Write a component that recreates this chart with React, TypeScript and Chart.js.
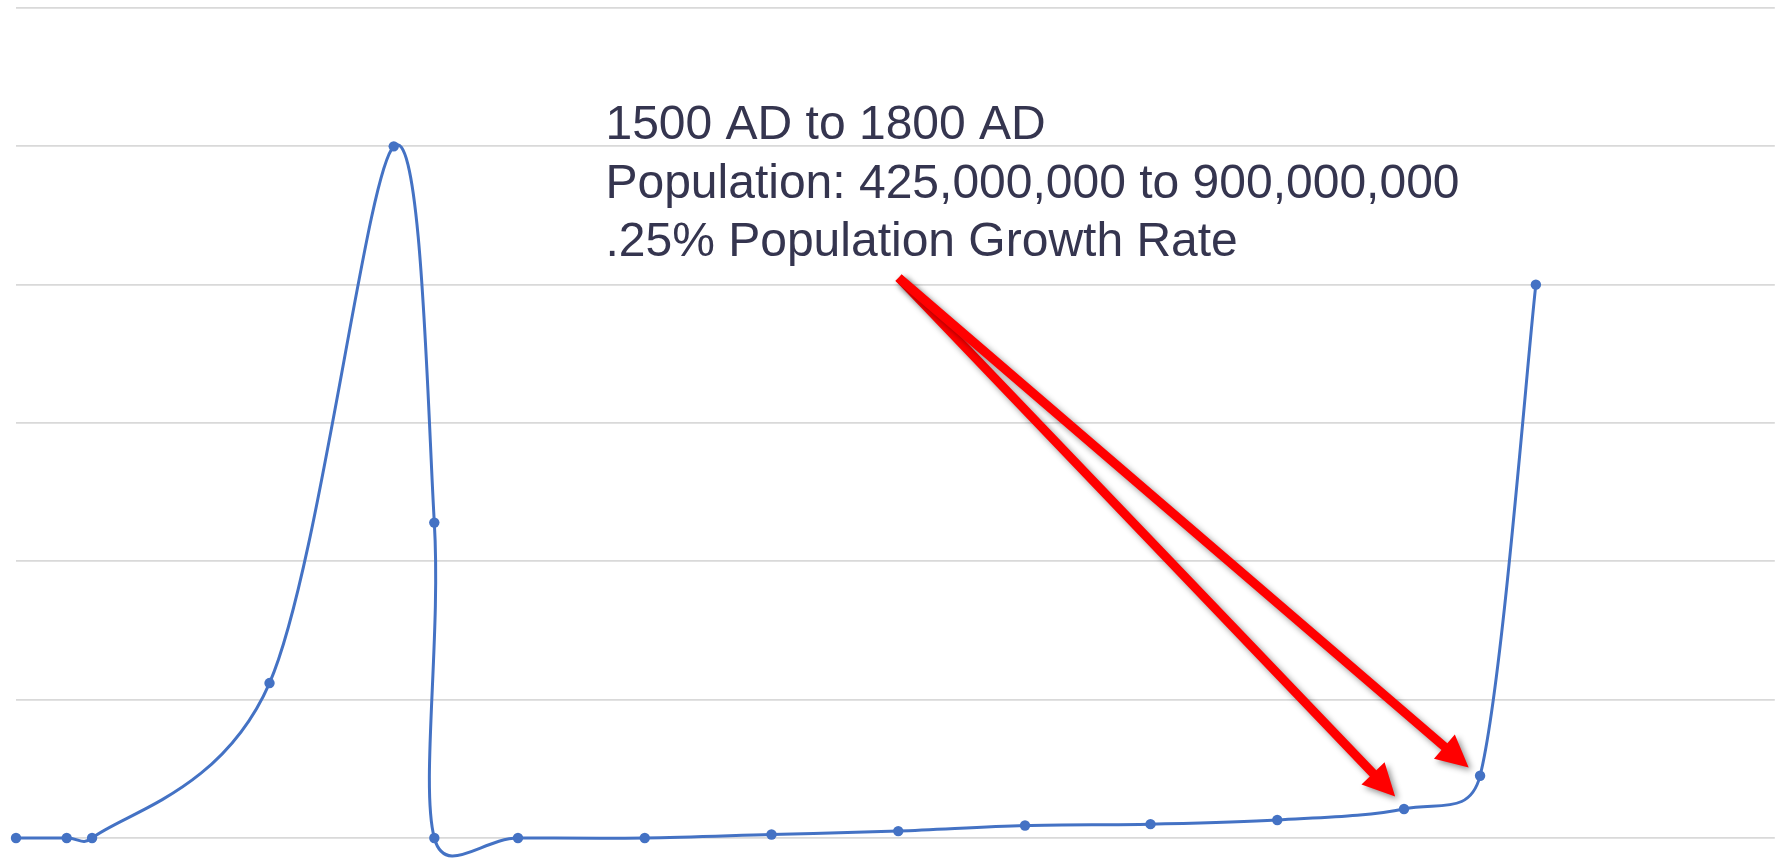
import React, { useEffect, useRef } from "react";
import { Chart, registerables } from "chart.js";

Chart.register(...registerables);

// time position (relative units) and population level (gridline units)
const xValues = [0, 0.4, 0.6, 2.0, 2.98, 3.3, 3.3, 3.96, 4.96, 5.96, 6.96, 7.96, 8.95, 9.95, 10.95, 11.55, 11.99];
const yValues = [0, 0, 0, 1.12, 5.0, 2.28, 0, 0, 0, 0.025, 0.05, 0.09, 0.1, 0.13, 0.21, 0.45, 4.0];
const yTicks = [0, 1, 2, 3, 4, 5, 6];

const noteLines = ["1500 AD to 1800 AD", "Population: 425,000,000 to 900,000,000", ".25% Population Growth Rate"];
const noteX = 4.65;
const noteY = [5.05, 4.63, 4.21];
const arrowStart = { x: 6.963, y: 4.05 };
const arrowTips = [
  { x: 10.88, y: 0.30 },
  { x: 11.46, y: 0.51 },
];

// Excel-style smoothing: Catmull-Rom arms (1/6) limited to half the segment length
const smoothPlugin = {
  id: "excelSmooth",
  beforeDatasetDraw(chart: any, args: any) {
    const meta = args.meta;
    const line = meta.dataset;
    if (!line) return;
    line.updateControlPoints(chart.chartArea, "x");
    const pts = meta.data;
    for (let i = 0; i < pts.length; i++) {
      const p = pts[i];
      const prev = pts[i - 1] || p;
      const next = pts[i + 1] || p;
      const dx = (next.x - prev.x) / 6;
      const dy = (next.y - prev.y) / 6;
      const arm = Math.hypot(dx, dy);
      const segOut = Math.hypot(next.x - p.x, next.y - p.y);
      const segIn = Math.hypot(p.x - prev.x, p.y - prev.y);
      const kOut = arm > 0 && arm > segOut / 2 ? segOut / 2 / arm : 1;
      const kIn = arm > 0 && arm > segIn / 2 ? segIn / 2 / arm : 1;
      p.cp2x = p.x + dx * kOut;
      p.cp2y = p.y + dy * kOut;
      p.cp1x = p.x - dx * kIn;
      p.cp1y = p.y - dy * kIn;
    }
    line._path = undefined;
  },
};

const annotationPlugin = {
  id: "notes",
  afterDatasetsDraw(chart: any) {
    const { ctx, scales } = chart;
    const xs = scales.x;
    const ys = scales.y;
    ctx.save();
    ctx.font = '48px "Liberation Sans", Arial, sans-serif';
    ctx.fillStyle = "#35354f";
    ctx.textBaseline = "alphabetic";
    noteLines.forEach((t, i) => {
      ctx.fillText(t, xs.getPixelForValue(noteX), ys.getPixelForValue(noteY[i]));
    });
    const sx = xs.getPixelForValue(arrowStart.x);
    const sy = ys.getPixelForValue(arrowStart.y);
    arrowTips.forEach((tip) => {
      const tx = xs.getPixelForValue(tip.x);
      const ty = ys.getPixelForValue(tip.y);
      const ang = Math.atan2(ty - sy, tx - sx);
      const headLen = 32;
      const headHalf = 16;
      const bx = tx - headLen * Math.cos(ang);
      const by = ty - headLen * Math.sin(ang);
      ctx.save();
      ctx.shadowColor = "rgba(0,0,0,0.45)";
      ctx.shadowBlur = 6;
      ctx.shadowOffsetX = 3;
      ctx.shadowOffsetY = 3;
      ctx.fillStyle = "#ff0000";
      const hw = 4.5;
      const nx = -Math.sin(ang);
      const ny = Math.cos(ang);
      ctx.beginPath();
      ctx.moveTo(sx + nx * hw, sy + ny * hw);
      ctx.lineTo(bx + nx * hw, by + ny * hw);
      ctx.lineTo(bx + nx * headHalf, by + ny * headHalf);
      ctx.lineTo(tx, ty);
      ctx.lineTo(bx - nx * headHalf, by - ny * headHalf);
      ctx.lineTo(bx - nx * hw, by - ny * hw);
      ctx.lineTo(sx - nx * hw, sy - ny * hw);
      ctx.closePath();
      ctx.fill();
      ctx.restore();
    });
    ctx.restore();
  },
};

export default function App() {
  const ref = useRef<HTMLCanvasElement>(null);
  useEffect(() => {
    document.body.style.margin = "0";
    const data = xValues.map((x, i) => ({ x, y: yValues[i] }));
    const chart = new Chart(ref.current as HTMLCanvasElement, {
      type: "scatter",
      data: {
        datasets: [
          {
            data,
            showLine: true,
            borderColor: "#4472c4",
            backgroundColor: "#4472c4",
            borderWidth: 3,
            pointRadius: 5.2,
            pointBorderWidth: 0,
            tension: 0.35,
            cubicInterpolationMode: "default",
            clip: false,
          } as any,
        ],
      },
      options: {
        animation: false,
        responsive: true,
        maintainAspectRatio: false,
        layout: { padding: { left: 16, top: 8, right: 0, bottom: 24 } },
        elements: { line: { capBezierPoints: false } },
        plugins: { legend: { display: false }, tooltip: { enabled: false } },
        scales: {
          x: { type: "linear", min: 0, max: 13.875, display: false },
          y: {
            min: 0,
            max: 6,
            afterBuildTicks: (axis: any) => {
              axis.ticks = yTicks.map((v) => ({ value: v }));
            },
            afterFit: (axis: any) => {
              axis.width = 0;
            },
            ticks: { display: false },
            border: { display: false },
            grid: { color: "#d9d9d9", lineWidth: 1.8, drawTicks: false },
          },
        },
      },
      plugins: [smoothPlugin, annotationPlugin],
    });
    return () => chart.destroy();
  }, []);
  return (
    <div style={{ position: "fixed", left: 0, top: 0, width: 1780, height: 862 }}>
      <canvas ref={ref} />
    </div>
  );
}
